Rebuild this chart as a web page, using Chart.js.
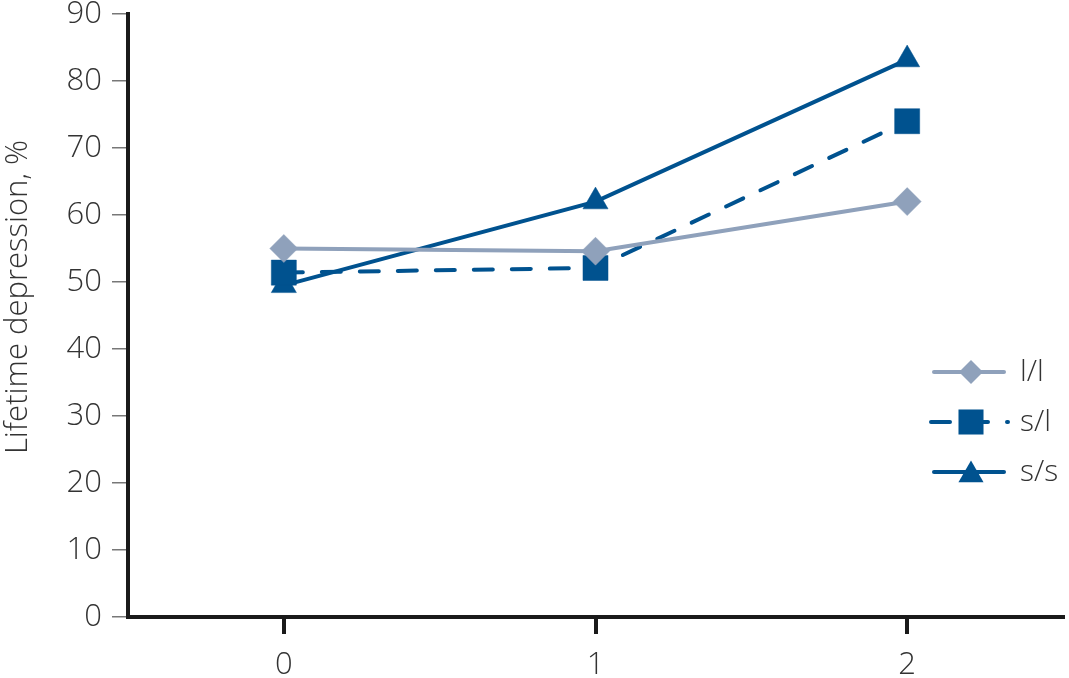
<!DOCTYPE html>
<html>
<head>
<meta charset="utf-8">
<script src="https://cdn.jsdelivr.net/npm/chart.js@4"></script>
<style>
  html, body { margin: 0; padding: 0; background: #fff; }
  #wrap { width: 1069px; height: 678px; }
</style>
</head>
<body>
<div id="wrap"><canvas id="c" width="1069" height="678"></canvas></div>
<script>
const categories = ['0', '1', '2'];
const seriesNames = ['l/l', 's/l', 's/s'];
const llValues = [55.0, 54.6, 62.0];
const slValues = [51.4, 52.1, 74.0];
const ssValues = [49.5, 62.0, 83.2];
const yTicks = [0, 10, 20, 30, 40, 50, 60, 70, 80, 90];
const yTitle = 'Lifetime depression, %';

const GRAY = '#8fa1bb';
const BLUE = '#00528f';
const TXT = '#333333';
const FONT = "'Open Sans', 'DejaVu Sans', sans-serif";

function drawMarker(ctx, style, x, y, r) {
  ctx.beginPath();
  if (style === 'rectRot') {
    ctx.moveTo(x - r, y); ctx.lineTo(x, y - r); ctx.lineTo(x + r, y); ctx.lineTo(x, y + r);
  } else if (style === 'rect') {
    const s = Math.SQRT1_2 * r;
    ctx.rect(x - s, y - s, 2 * s, 2 * s);
  } else if (style === 'triangle') {
    ctx.moveTo(x, y - r);
    ctx.lineTo(x + Math.cos(Math.PI / 6) * r, y + Math.sin(Math.PI / 6) * r);
    ctx.lineTo(x - Math.cos(Math.PI / 6) * r, y + Math.sin(Math.PI / 6) * r);
  }
  ctx.closePath();
  ctx.fill();
}

const decorPlugin = {
  id: 'decor',
  afterDraw(chart) {
    const ctx = chart.ctx;
    ctx.save();
    ctx.translate(18, 297);
    ctx.rotate(-Math.PI / 2);
    ctx.fillStyle = TXT;
    ctx.font = "300 31px " + FONT;
    ctx.textAlign = 'center';
    ctx.textBaseline = 'middle';
    ctx.fillText(yTitle, 0, 0);
    ctx.restore();
    const rows = [372, 422, 472];
    rows.forEach((y, i) => {
      const d = chart.data.datasets[i];
      ctx.save();
      ctx.strokeStyle = d.borderColor;
      ctx.lineWidth = 4;
      ctx.lineCap = 'round';
      ctx.beginPath();
      if (d.borderDash && d.borderDash.length) {
        ctx.setLineDash(d.borderDash);
        ctx.moveTo(931, y);
        ctx.lineTo(1008, y);
      } else {
        ctx.moveTo(934, y);
        ctx.lineTo(1004, y);
      }
      ctx.stroke();
      ctx.restore();
      ctx.save();
      ctx.fillStyle = d.pointBackgroundColor;
      drawMarker(ctx, d.pointStyle, 971, y + (d.pointStyle === 'triangle' ? 3 : 0), d.legendRadius);
      ctx.restore();
      ctx.save();
      ctx.fillStyle = TXT;
      ctx.font = "300 30px " + FONT;
      ctx.textBaseline = 'middle';
      ctx.textAlign = 'left';
      ctx.fillText(d.label, 1020, y);
      ctx.restore();
    });
  }
};

new Chart(document.getElementById('c'), {
  type: 'line',
  data: {
    labels: categories,
    datasets: [
      {
        label: seriesNames[0], data: llValues,
        borderColor: GRAY, borderWidth: 4,
        pointStyle: 'rectRot', pointRadius: 14, legendRadius: 12,
        pointBackgroundColor: GRAY, pointBorderColor: GRAY, pointBorderWidth: 0.5,
        fill: false, tension: 0
      },
      {
        label: seriesNames[1], data: slValues,
        borderColor: BLUE, borderWidth: 4, borderDash: [19, 19], borderCapStyle: 'round',
        pointStyle: 'rect', pointRadius: 17.7, legendRadius: 17.7,
        pointBackgroundColor: BLUE, pointBorderColor: BLUE, pointBorderWidth: 0.5,
        fill: false, tension: 0
      },
      {
        label: seriesNames[2], data: ssValues,
        borderColor: BLUE, borderWidth: 4,
        pointStyle: 'triangle', pointRadius: 14.5, legendRadius: 14.5,
        pointBackgroundColor: BLUE, pointBorderColor: BLUE, pointBorderWidth: 0.5,
        fill: false, tension: 0
      }
    ]
  },
  options: {
    responsive: false,
    animation: false,
    layout: { autoPadding: false, padding: { top: 14, right: 6, bottom: 0, left: 0 } },
    plugins: {
      legend: { display: false },
      tooltip: { enabled: false }
    },
    scales: {
      x: {
        type: 'category',
        offset: true,
        border: { display: true, color: '#1a1a1a', width: 4 },
        grid: {
          display: true, drawOnChartArea: false, drawTicks: true,
          tickLength: 17, color: '#1a1a1a', lineWidth: 4, offset: false
        },
        ticks: {
          color: TXT, padding: 14,
          font: { family: FONT, size: 31, weight: 300, lineHeight: 1.1 }
        },
        afterFit(scale) {
          scale.height = 61;
          scale.paddingLeft = 0; scale.paddingRight = 0;
        }
      },
      y: {
        min: 0, max: 90,
        afterBuildTicks(scale) { scale.ticks = yTicks.map(v => ({ value: v })); },
        border: { display: true, color: '#1a1a1a', width: 4 },
        grid: {
          display: true, drawOnChartArea: false, drawTicks: true,
          tickLength: 16, color: '#777', lineWidth: 1.5
        },
        ticks: {
          color: TXT, padding: 10,
          font: { family: FONT, size: 31, weight: 300, lineHeight: 0.9 }
        },
        title: { display: false },
        afterFit(scale) {
          scale.width = 128;
          scale.paddingTop = 0; scale.paddingBottom = 0;
        }
      }
    }
  },
  plugins: [decorPlugin]
});
</script>
</body>
</html>
